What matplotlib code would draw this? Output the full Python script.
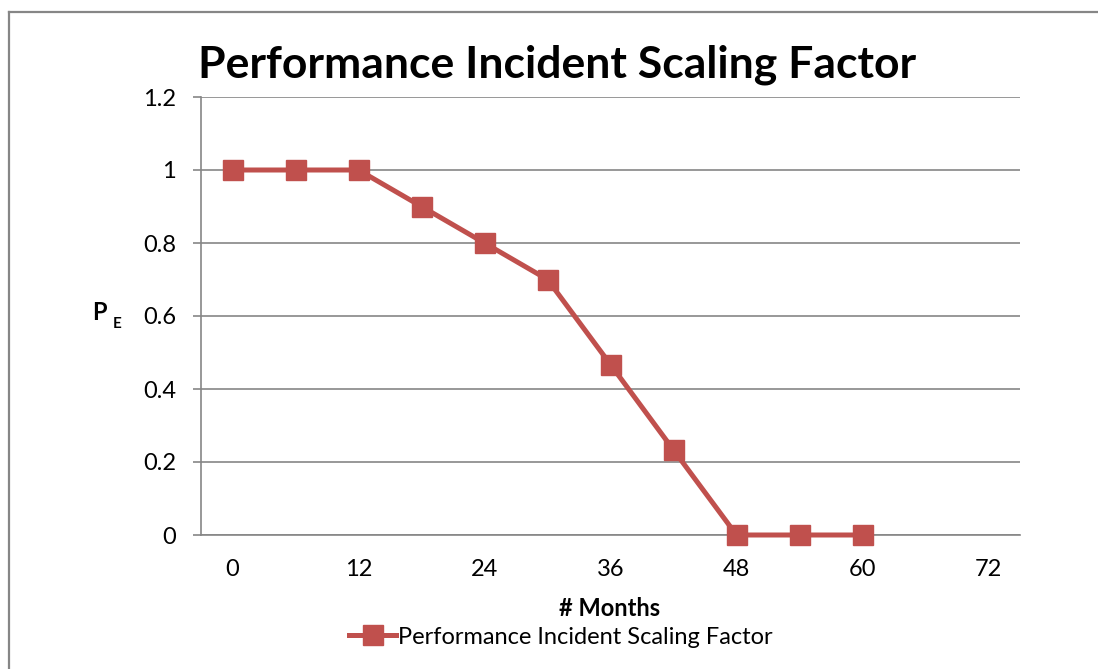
import matplotlib.pyplot as plt
from matplotlib.lines import Line2D

# datos
meses = [0, 6, 12, 18, 24, 30, 36, 42, 48, 54, 60]
factor = [1, 1, 1, 0.9, 0.8, 0.7, 0.467, 0.233, 0, 0, 0]
xticks = [0, 12, 24, 36, 48, 60, 72]
yticks = [0, 0.2, 0.4, 0.6, 0.8, 1, 1.2]
ytick_labels = ['0', '0.2', '0.4', '0.6', '0.8', '1', '1.2']

titulo = 'Performance Incident Scaling Factor'
rojo = '#C0504D'
gris = '#868686'

plt.rcParams['font.family'] = ['Lato', 'DejaVu Sans']

W, H = 1098, 669
fig = plt.figure(figsize=(W / 100, H / 100), dpi=100)

# marco exterior (solo se ven los bordes superior e izquierdo)
fig.lines.append(Line2D([9 / W, 1], [1 - 12 / H, 1 - 12 / H], transform=fig.transFigure,
                        color=gris, linewidth=1.6))
fig.lines.append(Line2D([9 / W, 9 / W], [0, 1 - 12 / H], transform=fig.transFigure,
                        color=gris, linewidth=1.6))

ax = fig.add_axes([201 / W, 1 - 535 / H, (1020 - 201) / W, (535 - 97) / H])

ax.plot(meses, factor, color=rojo, linewidth=3.6, marker='s', markersize=14,
        label=titulo, zorder=3, clip_on=False)

ax.set_xlim(-3, 75)
ax.set_ylim(0, 1.2)
ax.set_xticks(xticks)
ax.set_yticks(yticks)
ax.set_yticklabels(ytick_labels)
ax.tick_params(axis='x', length=0, pad=17, labelsize=17)
ax.tick_params(axis='y', length=6, width=1.2, color=gris, pad=12, labelsize=17)
ax.grid(axis='y', color=gris, linewidth=1.2)
ax.set_axisbelow(True)

for s in ['top', 'right']:
    ax.spines[s].set_visible(False)
for s in ['left', 'bottom']:
    ax.spines[s].set_color(gris)
    ax.spines[s].set_linewidth(1.2)

fig.text(557 / W, 1 - 65 / H, titulo, fontsize=32, fontweight='bold',
         ha='center', va='center')
fig.text(610 / W, 1 - 608 / H, '# Months', fontsize=17, fontweight='bold',
         ha='center', va='center')
fig.text(99 / W, 1 - 313 / H, 'P', fontsize=17, fontweight='bold',
         ha='center', va='center')
fig.text(117 / W, 1 - 324 / H, 'E', fontsize=11, fontweight='bold',
         ha='center', va='center')

fig.legend(loc='center', bbox_to_anchor=(561 / W, 1 - 637 / H), frameon=False,
           fontsize=17, handlelength=2.0, handletextpad=0.1, borderpad=0)

fig.savefig('out.png', dpi=100)
